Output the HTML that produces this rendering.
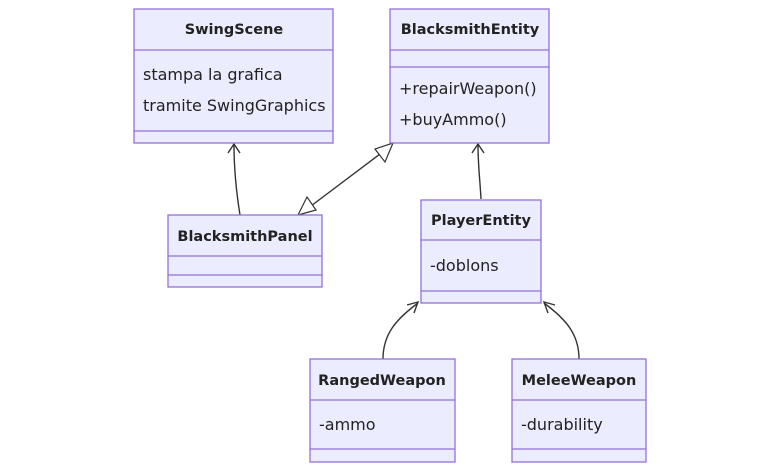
<!DOCTYPE html>
<html><head><style>
body{margin:0;background:#fff;}
svg text{font-family:"DejaVu Sans","Liberation Sans",sans-serif;font-size:16px;fill:#222;}
.h{font-weight:bold;text-anchor:middle;font-size:14.5px;}
rect{fill:#ECECFF;stroke:#9370DB;stroke-width:1.3;}
.d{stroke:#9370DB;stroke-width:1.3;}
.e{fill:none;stroke:#333;stroke-width:1.4;}
</style></head><body>
<svg width="780" height="471" viewBox="0 0 780 471" xmlns="http://www.w3.org/2000/svg">
<path class="e" d="M240,215 C236,190 234,170 234,145"/>
<path class="e" d="M228,153 L234,144 L240,153"/>
<path class="e" d="M481,199 C480,180 478,165 478,145"/>
<path class="e" d="M472,153 L478,144 L484,153"/>
<path class="e" d="M383,359 C383,335 395,320 418,303"/>
<path class="e" d="M407,305 L418,302 L414,313"/>
<path class="e" d="M579,359 C579,335 567,320 544,303"/>
<path class="e" d="M548,313 L544,302 L555,305"/>
<path class="e" d="M307,209 L384,151"/>
<path fill="#fff" stroke="#333" stroke-width="1.2" d="M393,143 L385,162 L375,149 Z"/>
<path fill="#fff" stroke="#333" stroke-width="1.2" d="M298,215 L307,197 L316,210 Z"/>
<rect x="134" y="9" width="199" height="134"/>
<line class="d" x1="134" y1="50" x2="333" y2="50"/><line class="d" x1="134" y1="131" x2="333" y2="131"/>
<text class="h" x="234" y="34">SwingScene</text>
<text x="143" y="80">stampa la grafica</text>
<text x="143" y="111">tramite SwingGraphics</text>
<rect x="390" y="9" width="159" height="134"/>
<line class="d" x1="390" y1="50" x2="549" y2="50"/><line class="d" x1="390" y1="67" x2="549" y2="67"/>
<text class="h" x="470" y="34">BlacksmithEntity</text>
<text x="399" y="94">+repairWeapon()</text>
<text x="399" y="125">+buyAmmo()</text>
<rect x="168" y="215" width="154" height="72"/>
<line class="d" x1="168" y1="256" x2="322" y2="256"/><line class="d" x1="168" y1="275" x2="322" y2="275"/>
<text class="h" x="245" y="241">BlacksmithPanel</text>
<rect x="421" y="200" width="120" height="103"/>
<line class="d" x1="421" y1="240" x2="541" y2="240"/><line class="d" x1="421" y1="291" x2="541" y2="291"/>
<text class="h" x="481" y="225">PlayerEntity</text>
<text x="430" y="271">-doblons</text>
<rect x="310" y="359" width="145" height="103"/>
<line class="d" x1="310" y1="400" x2="455" y2="400"/><line class="d" x1="310" y1="449" x2="455" y2="449"/>
<text class="h" x="382" y="385">RangedWeapon</text>
<text x="319" y="430">-ammo</text>
<rect x="512" y="359" width="134" height="103"/>
<line class="d" x1="512" y1="400" x2="646" y2="400"/><line class="d" x1="512" y1="449" x2="646" y2="449"/>
<text class="h" x="579" y="385">MeleeWeapon</text>
<text x="521" y="430">-durability</text>
</svg>
</body></html>
